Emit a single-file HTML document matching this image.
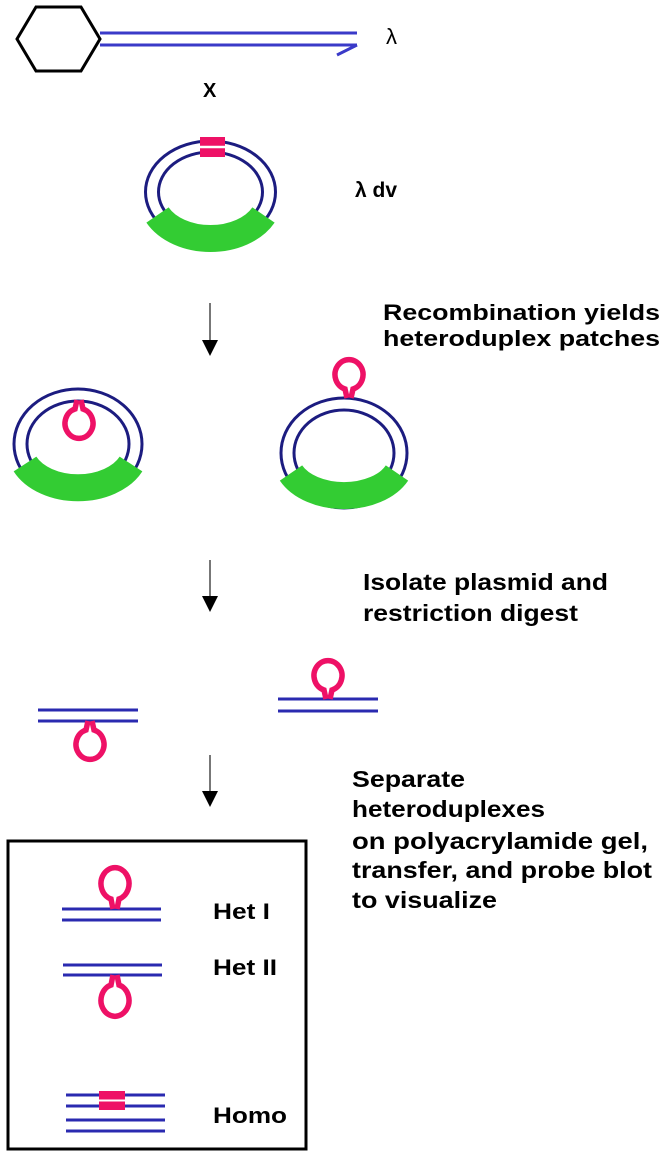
<!DOCTYPE html>
<html><head><meta charset="utf-8"><style>html,body{margin:0;padding:0;background:#fff;}svg{display:block;}</style></head>
<body>
<svg width="664" height="1156" viewBox="0 0 664 1156" xmlns="http://www.w3.org/2000/svg" font-family="Liberation Sans, Arial, sans-serif" font-weight="bold">
<!-- phage -->
<polygon points="17,39 36,7 81,7 100,39 81,71 36,71" fill="none" stroke="#000" stroke-width="3"/>
<g stroke="#3a3ac8" stroke-width="3" fill="none">
<line x1="100" y1="33" x2="357" y2="33"/>
<line x1="100" y1="45" x2="357" y2="45"/>
<line x1="357" y1="45" x2="337" y2="55"/>
</g>
<text x="386" y="44" font-size="22" font-weight="normal">λ</text>
<text x="203" y="97" font-size="20">X</text>

<!-- λdv ring -->
<g fill="none" stroke="#1c1c80" stroke-width="3">
<ellipse cx="210.5" cy="192" rx="65" ry="51"/>
<ellipse cx="210.5" cy="192" rx="52" ry="40"/>
</g>
<path d="M157.5,215 A59,42 0 0 0 263.5,215" fill="none" stroke="#33cc33" stroke-width="27"/>
<rect x="200" y="137" width="25" height="20" fill="#ee1166"/>
<line x1="198" y1="147" x2="227" y2="147" stroke="#fff" stroke-width="2.5"/>
<text x="355" y="197" font-size="21">λ dv</text>

<!-- arrow 1 -->
<line x1="210" y1="303" x2="210" y2="342" stroke="#777" stroke-width="2"/>
<polygon points="202,340 218,340 210,356" fill="#000"/>
<text x="383" y="320" font-size="22" textLength="277" lengthAdjust="spacingAndGlyphs">Recombination yields</text>
<text x="383" y="346" font-size="22" textLength="277" lengthAdjust="spacingAndGlyphs">heteroduplex patches</text>

<!-- left ring -->
<g fill="none" stroke="#1c1c80" stroke-width="3">
<ellipse cx="78" cy="444" rx="64" ry="55"/>
<ellipse cx="78" cy="444" rx="51" ry="43"/>
</g>
<path d="M25,464 A58,40 0 0 0 131,464" fill="none" stroke="#33cc33" stroke-width="27"/>
<path d="M77,400 L75,409 A14,15 0 1 0 83,409 L81,400" fill="none" stroke="#ee1166" stroke-width="5.5"/>

<!-- right ring -->
<g fill="none" stroke="#1c1c80" stroke-width="3">
<ellipse cx="344" cy="453" rx="63" ry="55"/>
<ellipse cx="344" cy="453" rx="50" ry="43"/>
</g>
<path d="M291,473 A58,38 0 0 0 397,473" fill="none" stroke="#33cc33" stroke-width="27"/>
<path d="M347,398 L345,389 A14,15 0 1 1 353,389 L351,398" fill="none" stroke="#ee1166" stroke-width="5.5"/>

<!-- arrow 2 -->
<line x1="210" y1="560" x2="210" y2="598" stroke="#777" stroke-width="2"/>
<polygon points="202,596 218,596 210,612" fill="#000"/>
<text x="363" y="590" font-size="23" textLength="245" lengthAdjust="spacingAndGlyphs">Isolate plasmid and</text>
<text x="363" y="621" font-size="23" textLength="215" lengthAdjust="spacingAndGlyphs">restriction digest</text>

<!-- fragments -->
<g stroke="#2a2ab0" stroke-width="3">
<line x1="38" y1="710" x2="138" y2="710"/>
<line x1="38" y1="721" x2="138" y2="721"/>
<line x1="278" y1="699" x2="378" y2="699"/>
<line x1="278" y1="711" x2="378" y2="711"/>
</g>
<path d="M88,721 L86,730 A14,15 0 1 0 94,730 L92,721" fill="none" stroke="#ee1166" stroke-width="5.5"/>
<path d="M326,699 L324,690 A14,15 0 1 1 332,690 L330,699" fill="none" stroke="#ee1166" stroke-width="5.5"/>

<!-- arrow 3 -->
<line x1="210" y1="755" x2="210" y2="793" stroke="#777" stroke-width="2"/>
<polygon points="202,791 218,791 210,807" fill="#000"/>
<text x="352" y="787" font-size="23" textLength="113" lengthAdjust="spacingAndGlyphs">Separate</text>
<text x="352" y="817" font-size="23" textLength="193" lengthAdjust="spacingAndGlyphs">heteroduplexes</text>
<text x="352" y="849" font-size="23" textLength="296" lengthAdjust="spacingAndGlyphs">on polyacrylamide gel,</text>
<text x="352" y="878" font-size="23" textLength="300" lengthAdjust="spacingAndGlyphs">transfer, and probe blot</text>
<text x="352" y="908" font-size="23" textLength="145" lengthAdjust="spacingAndGlyphs">to visualize</text>

<!-- box -->
<rect x="8" y="841" width="298" height="308" fill="none" stroke="#000" stroke-width="3"/>
<g stroke="#2a2ab0" stroke-width="3">
<line x1="62" y1="909" x2="161" y2="909"/>
<line x1="62" y1="920" x2="161" y2="920"/>
<line x1="63" y1="965" x2="162" y2="965"/>
<line x1="63" y1="975" x2="162" y2="975"/>
<line x1="66" y1="1095" x2="165" y2="1095"/>
<line x1="66" y1="1106" x2="165" y2="1106"/>
<line x1="66" y1="1120" x2="165" y2="1120"/>
<line x1="66" y1="1131" x2="165" y2="1131"/>
</g>
<path d="M113,909 L111,899 A14,16 0 1 1 119,899 L117,909" fill="none" stroke="#ee1166" stroke-width="5.5"/>
<path d="M113,975 L111,985 A14,16 0 1 0 119,985 L117,975" fill="none" stroke="#ee1166" stroke-width="5.5"/>
<rect x="99" y="1091" width="26" height="19" fill="#ee1166"/>
<line x1="97" y1="1100.5" x2="127" y2="1100.5" stroke="#fff" stroke-width="2"/>
<text x="213" y="919" font-size="22" textLength="57" lengthAdjust="spacingAndGlyphs">Het I</text>
<text x="213" y="975" font-size="22" textLength="64" lengthAdjust="spacingAndGlyphs">Het II</text>
<text x="213" y="1123" font-size="22" textLength="74" lengthAdjust="spacingAndGlyphs">Homo</text>
</svg>
</body></html>
